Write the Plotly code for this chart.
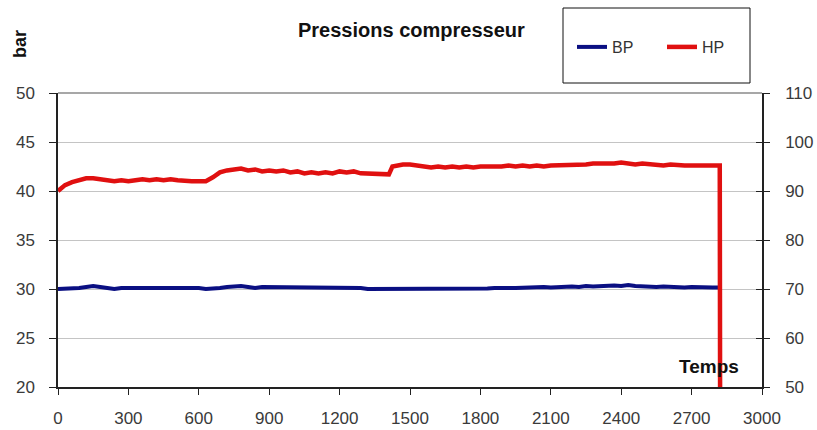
import plotly.graph_objects as go

# Time (s)
temps = [0, 30, 60, 90, 120, 150, 180, 210, 240, 270, 300, 330, 360, 390, 420, 450, 480, 510,
         540, 570, 600, 630, 660, 690, 720, 750, 780, 810, 840, 870, 900, 930, 960, 990, 1020,
         1050, 1080, 1110, 1140, 1170, 1200, 1230, 1260, 1290, 1320, 1350, 1380, 1410, 1440,
         1470, 1500, 1530, 1560, 1590, 1620, 1650, 1680, 1710, 1740, 1770, 1800, 1830, 1860,
         1890, 1920, 1950, 1980, 2010, 2040, 2070, 2100, 2130, 2160, 2190, 2220, 2250, 2280,
         2310, 2340, 2370, 2400, 2430, 2460, 2490, 2520, 2550, 2580, 2610, 2640, 2670, 2700,
         2730, 2760, 2790, 2820]

# BP pressure (bar, left axis)
bp = [30.0, 30.0, 30.0, 30.1, 30.2, 30.3, 30.2, 30.1, 30.0, 30.1, 30.1, 30.2, 30.1, 30.2,
      30.2, 30.1, 30.2, 30.1, 30.1, 30.1, 30.1, 30.0, 30.0, 30.1, 30.2, 30.3, 30.3, 30.2,
      30.1, 30.2, 30.2, 30.1, 30.2, 30.1, 30.2, 30.1, 30.2, 30.1, 30.1, 30.2, 30.1, 30.2,
      30.1, 30.1, 30.0, 30.0, 30.0, 30.0, 29.95, 30.0, 30.0, 30.0, 30.05, 30.0, 30.0, 30.05,
      30.0, 30.0, 30.05, 30.0, 30.0, 30.05, 30.1, 30.05, 30.1, 30.1, 30.15, 30.1, 30.15,
      30.2, 30.15, 30.2, 30.2, 30.25, 30.2, 30.3, 30.25, 30.3, 30.3, 30.35, 30.3, 30.4, 30.3,
      30.25, 30.3, 30.2, 30.25, 30.2, 30.2, 30.15, 30.2, 30.15, 30.2, 30.15, 30.15]

# HP pressure (bar, right axis) - last point is the drop after shutdown
temps_hp = temps[:48] + [1425] + temps[48:] + [2823]
hp = [90.0, 91.2, 91.8, 92.2, 92.6, 92.6, 92.4, 92.0, 92.0, 92.2, 92.0, 92.2, 92.4, 92.2,
      92.4, 92.2, 92.4, 92.2, 92.0, 92.0, 92.0, 92.0, 92.8, 93.8, 94.2, 94.4, 94.6, 94.2,
      94.4, 94.0, 94.2, 94.0, 94.2, 93.8, 94.0, 93.6, 93.8, 93.6, 93.8, 93.6, 94.0, 93.8,
      94.0, 93.6, 93.6, 93.4, 93.4, 93.4, 95.0, 95.2, 95.4, 95.4, 95.2, 95.0, 94.8, 95.0,
      94.8, 95.0, 94.8, 95.0, 94.8, 95.0, 95.0, 94.8, 95.0, 95.2, 95.0, 95.2, 95.0, 95.2,
      95.0, 95.2, 95.2, 95.4, 95.2, 95.4, 95.4, 95.6, 95.6, 95.4, 95.6, 95.8, 95.6, 95.4,
      95.6, 95.4, 95.4, 95.2, 95.4, 95.2, 95.2, 95.2, 95.2, 95.2, 95.2, 95.2, 0.0]

x_ticks = [0, 300, 600, 900, 1200, 1500, 1800, 2100, 2400, 2700, 3000]
y_left_ticks = [20, 25, 30, 35, 40, 45, 50]
y_right_ticks = [50, 60, 70, 80, 90, 100, 110]

FONT = "Arial, Liberation Sans, sans-serif"
W, H = 817, 430
L, R, T, B = 58, 55, 93, 43
PW, PH = W - L - R, H - T - B


def px(x):
    return (x - L) / PW


def py(y):
    return (H - B - y) / PH


fig = go.Figure()
fig.add_trace(go.Scatter(x=temps, y=bp, name="BP", mode="lines",
                         line=dict(color="#0a0f82", width=4), yaxis="y"))
fig.add_trace(go.Scatter(x=temps_hp, y=hp, name="HP", mode="lines",
                         line=dict(color="#e01010", width=4.5), yaxis="y2"))

tickfont = dict(family=FONT, size=17, color="#3a3a3a")

fig.update_layout(
    width=W, height=H,
    margin=dict(l=L, r=R, t=T, b=B, pad=0, autoexpand=False),
    paper_bgcolor="white", plot_bgcolor="white",
    showlegend=True,
    legend=dict(orientation="h", xref="container", yref="container",
                x=572 / W, y=1 - 47 / H, xanchor="left", yanchor="middle",
                font=dict(family=FONT, size=16, color="#333333"),
                bgcolor="rgba(0,0,0,0)", borderwidth=0,
                entrywidth=45, entrywidthmode="pixels"),
    xaxis=dict(range=[0, 3000], tickvals=x_ticks, ticktext=[str(v) for v in x_ticks],
               showgrid=False, zeroline=False, showline=True, linecolor="#222222",
               linewidth=1.5, ticks="outside", ticklen=6, tickcolor="#222222",
               tickfont=tickfont, ticklabelstandoff=9, automargin=False),
    yaxis=dict(range=[20, 50], tickvals=y_left_ticks, showgrid=True, gridcolor="#c4c4c4",
               gridwidth=1, zeroline=False, showline=True, linecolor="#222222",
               linewidth=1.5, ticks="outside", ticklen=7, tickcolor="#222222",
               tickfont=tickfont, ticklabelstandoff=11, automargin=False),
    yaxis2=dict(range=[50, 110], tickvals=y_right_ticks, overlaying="y", side="right",
                showgrid=False, zeroline=False, showline=True, linecolor="#222222",
                linewidth=1.5, ticks="outside", ticklen=6, tickcolor="#222222",
                tickfont=tickfont, ticklabelstandoff=12, automargin=False),
    yaxis3=dict(range=[50, 110], tickvals=y_right_ticks, overlaying="y", side="right",
                anchor="x", showgrid=False, zeroline=False, showline=False,
                ticks="inside", ticklen=6, tickcolor="#222222", showticklabels=False,
                automargin=False),
)

# invisible trace to activate yaxis3 (inside ticks on right axis)
fig.add_trace(go.Scatter(x=[None], y=[None], yaxis="y3", showlegend=False,
                         hoverinfo="skip"))

# top frame line
fig.add_shape(type="line", xref="paper", yref="paper", x0=0, x1=1, y0=1, y1=1,
              line=dict(color="#8a8a8a", width=1.5), layer="above")
# legend box
fig.add_shape(type="rect", xref="paper", yref="paper", x0=px(563), x1=px(750),
              y0=py(83), y1=py(8), line=dict(color="#111111", width=1),
              fillcolor="rgba(0,0,0,0)")

fig.add_annotation(text="<b>Pressions compresseur</b>", xref="paper", yref="paper",
                   x=px(411), y=py(30), showarrow=False, xanchor="center", yanchor="middle",
                   font=dict(family=FONT, size=20, color="#111111"))
fig.add_annotation(text="<b>bar</b>", xref="paper", yref="paper",
                   x=px(20), y=py(44), showarrow=False, textangle=-90,
                   xanchor="center", yanchor="middle",
                   font=dict(family=FONT, size=18, color="#111111"))
fig.add_annotation(text="<b>Temps</b>", xref="paper", yref="paper",
                   x=px(709), y=py(366), showarrow=False, xanchor="center", yanchor="middle",
                   font=dict(family=FONT, size=19, color="#111111"))

fig.write_html("out.html", config={"displayModeBar": False},
               post_script="document.body.style.margin='0';document.body.style.padding='0';")
